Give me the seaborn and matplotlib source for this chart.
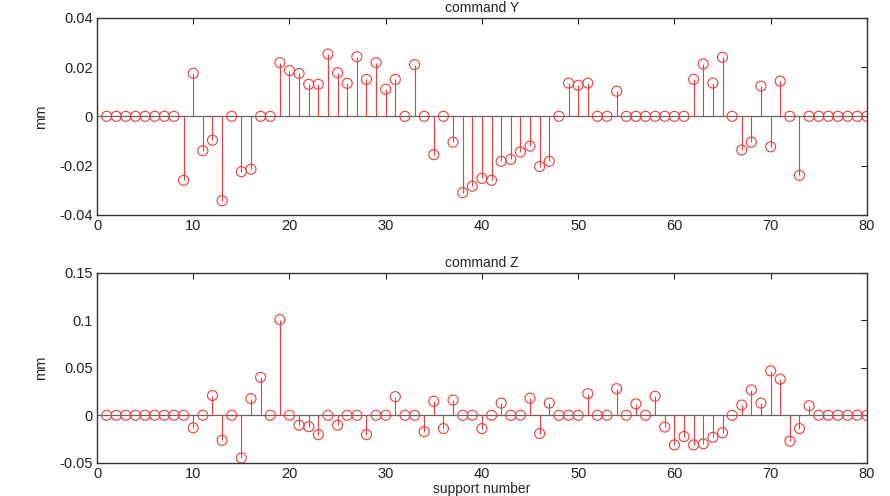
import numpy as np
import pandas as pd
import matplotlib
matplotlib.use("Agg")
import matplotlib.pyplot as plt
import seaborn as sns

support = list(range(1, 81))

command_y = [
    0, 0, 0, 0, 0, 0, 0, 0, -0.026, 0.0175,
    -0.014, -0.0097, -0.0343, 0, -0.0225, -0.0215, 0, 0, 0.0218, 0.0186,
    0.0174, 0.013, 0.013, 0.0253, 0.0177, 0.0134, 0.0242, 0.015, 0.0218, 0.011,
    0.015, 0, 0.021, 0, -0.0156, 0, -0.0105, -0.031, -0.0284, -0.0252,
    -0.026, -0.0183, -0.0175, -0.0145, -0.0121, -0.0204, -0.0183, 0, 0.0135, 0.0126,
    0.0135, 0, 0, 0.0102, 0, 0, 0, 0, 0, 0,
    0, 0.015, 0.0213, 0.0135, 0.024, 0, -0.0137, -0.0105, 0.0123, -0.0124,
    0.0143, 0, -0.024, 0, 0, 0, 0, 0, 0, 0,
]

command_z = [
    0, 0, 0, 0, 0, 0, 0, 0, 0, -0.0132,
    0, 0.0208, -0.0264, 0, -0.045, 0.0176, 0.040, 0, 0.1008, 0,
    -0.0104, -0.012, -0.0204, 0, -0.0104, 0, 0, -0.0204, 0, 0,
    0.0196, 0, 0, -0.0172, 0.0148, -0.014, 0.016, 0, 0, -0.014,
    0, 0.0128, 0, 0, 0.018, -0.0192, 0.0128, 0, 0, 0,
    0.0228, 0, 0, 0.028, 0, 0.012, 0, 0.020, -0.0124, -0.0312,
    -0.0224, -0.0312, -0.030, -0.0232, -0.0184, 0, 0.0108, 0.0268, 0.0128, 0.0468,
    0.038, -0.0272, -0.014, 0.010, 0, 0, 0, 0, 0, 0,
]

titles = ["command Y", "command Z"]
x_ticks = [0, 10, 20, 30, 40, 50, 60, 70, 80]
y_ticks_top = [-0.04, -0.02, 0, 0.02, 0.04]
y_ticklabels_top = ["-0.04", "-0.02", "0", "0.02", "0.04"]
y_ticks_bot = [-0.05, 0, 0.05, 0.1, 0.15]
y_ticklabels_bot = ["-0.05", "0", "0.05", "0.1", "0.15"]

sns.set_style("white")
plt.rcParams["font.family"] = ["Liberation Sans", "DejaVu Sans"]

fig = plt.figure(figsize=(8.9, 4.96), dpi=100)
ax1 = fig.add_axes([0.109, 0.567, 0.865, 0.397])
ax2 = fig.add_axes([0.109, 0.067, 0.865, 0.383])

red = "#f03c3c"

def stem_panel(ax, values, title, yticks, yticklabels, ylim):
    df = pd.DataFrame({"support": support, "value": values})
    ax.axhline(0, color="#666666", lw=0.9, zorder=1)
    ax.vlines(df["support"], 0, df["value"], color=red, lw=0.8, zorder=2)
    sns.scatterplot(data=df, x="support", y="value", ax=ax, marker="o",
                    s=52, facecolors="none", edgecolor=red, linewidth=0.8,
                    zorder=3, legend=False)
    ax.set_xlim(0, 80)
    ax.set_ylim(*ylim)
    ax.set_xticks(x_ticks)
    ax.set_xticklabels([str(t) for t in x_ticks])
    ax.set_yticks(yticks)
    ax.set_yticklabels(yticklabels)
    ax.set_title(title, fontsize=10, pad=4)
    ax.set_ylabel("mm", fontsize=10.5, labelpad=8)
    ax.set_xlabel("")
    ax.tick_params(direction="in", length=4, width=0.8, top=True, right=True,
                   labelsize=10.5, colors="#222222", pad=3)
    for sp in ax.spines.values():
        sp.set_visible(True)
        sp.set_color("#333333")
        sp.set_linewidth(1.0)

stem_panel(ax1, command_y, titles[0], y_ticks_top, y_ticklabels_top, (-0.04, 0.04))
stem_panel(ax2, command_z, titles[1], y_ticks_bot, y_ticklabels_bot, (-0.05, 0.15))
ax2.set_xlabel("support number", fontsize=10, labelpad=1)

fig.savefig("out.png", dpi=100, facecolor="white")
